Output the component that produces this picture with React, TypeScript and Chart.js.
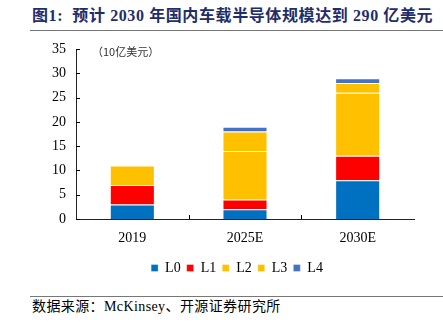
import React, { useEffect, useRef } from "react";
import { Chart, registerables } from "chart.js";

Chart.register(...registerables);

const categories = ["2019", "2025E", "2030E"];
const seriesNames = ["L0", "L1", "L2", "L3", "L4"];
const L0 = [3, 2, 8];
const L1 = [4, 2, 5];
const L2 = [4, 10, 13];
const L3 = [0, 4, 2];
const L4 = [0, 1, 1];
const seriesValues = [L0, L1, L2, L3, L4];
const seriesColors = ["#0070C0", "#FF0000", "#FFC000", "#FFC000", "#4472C4"];
const yTicks = [0, 5, 10, 15, 20, 25, 30, 35];

const serif = "'Liberation Serif', 'Times New Roman', 'Noto Sans CJK SC', serif";

const innerTicks = {
  id: "innerTicks",
  afterLayout(chart: any) {
    const l = chart.legend;
    if (l) {
      l.left += 30;
      l.right += 30;
    }
  },
  afterDraw(chart: any) {
    const { ctx, chartArea, scales } = chart;
    ctx.save();
    ctx.strokeStyle = "#000";
    ctx.lineWidth = 1;
    const ys = scales.y;
    yTicks.forEach((v) => {
      const py = Math.round(ys.getPixelForValue(v)) + 0.5;
      ctx.beginPath();
      ctx.moveTo(chartArea.left, py);
      ctx.lineTo(chartArea.left + 4, py);
      ctx.stroke();
    });
    const xs = scales.x;
    for (let i = 1; i < categories.length; i++) {
      const px = Math.round((xs.getPixelForValue(i - 1) + xs.getPixelForValue(i)) / 2) + 0.5;
      ctx.beginPath();
      ctx.moveTo(px, chartArea.bottom);
      ctx.lineTo(px, chartArea.bottom - 4);
      ctx.stroke();
    }
    ctx.restore();
  },
};

export default function App() {
  const ref = useRef<HTMLCanvasElement>(null);
  useEffect(() => {
    if (!ref.current) return;
    const chart = new Chart(ref.current, {
      type: "bar",
      data: {
        labels: categories,
        datasets: seriesNames.map((n, i) => ({
          label: n,
          data: seriesValues[i],
          backgroundColor: seriesColors[i],
          borderColor: "rgba(255,255,255,0.35)",
          borderWidth: 1,
          barPercentage: 0.4,
          categoryPercentage: 1,
        })),
      },
      options: {
        animation: false,
        responsive: false,
        maintainAspectRatio: false,
        layout: { padding: { top: 49, right: 29, bottom: 10, left: 0 } },
        plugins: {
          legend: {
            position: "bottom",
            labels: {
              boxWidth: 7,
              boxHeight: 7,
              padding: 6,
              color: "#000",
              font: { family: serif, size: 14 },
            },
          },
          tooltip: { enabled: false },
        },
        scales: {
          x: {
            stacked: true,
            grid: { display: false, drawTicks: false },
            border: { display: true, color: "#222", width: 1 },
            ticks: { color: "#000", font: { family: serif, size: 14 }, padding: 11 },
            afterFit: (s: any) => {
              s.height = 36;
            },
          },
          y: {
            stacked: true,
            min: 0,
            max: 35,
            grid: { display: false, drawTicks: false },
            border: { display: true, color: "#222", width: 1 },
            ticks: { stepSize: 5, color: "#000", font: { family: serif, size: 14 }, padding: 10 },
            afterFit: (s: any) => {
              s.width = 76;
            },
          },
        },
      },
      plugins: [innerTicks],
    });
    return () => chart.destroy();
  }, []);

  return (
    <div style={{ position: "fixed", left: 0, top: 0, width: 443, height: 330, background: "#fff", overflow: "hidden" }}>
      <div
        style={{
          position: "absolute",
          left: 32,
          top: 6,
          fontFamily: serif,
          fontWeight: "bold",
          fontSize: 16,
          letterSpacing: 0.6,
          color: "#1F2D6B",
          whiteSpace: "pre",
          lineHeight: "20px",
        }}
      >
        {"图1:  预计 2030 年国内车载半导体规模达到 290 亿美元"}
      </div>
      <div style={{ position: "absolute", left: 30, top: 30, width: 413, height: 1, background: "#777" }} />
      <canvas ref={ref} width={443} height={295} style={{ position: "absolute", left: 0, top: 0, width: 443, height: 295 }} />
      <div
        style={{
          position: "absolute",
          left: 92,
          top: 44,
          fontFamily: "'Noto Sans CJK SC', sans-serif",
          fontSize: 11,
          color: "#333",
          whiteSpace: "nowrap",
          lineHeight: "14px",
        }}
      >
        （10亿美元）
      </div>
      <div style={{ position: "absolute", left: 30, top: 296, width: 413, height: 1, background: "#777" }} />
      <div
        style={{
          position: "absolute",
          left: 32,
          top: 298,
          fontFamily: serif,
          fontSize: 14,
          letterSpacing: 0.4,
          color: "#000",
          whiteSpace: "nowrap",
          lineHeight: "18px",
        }}
      >
        数据来源：McKinsey、开源证券研究所
      </div>
    </div>
  );
}
